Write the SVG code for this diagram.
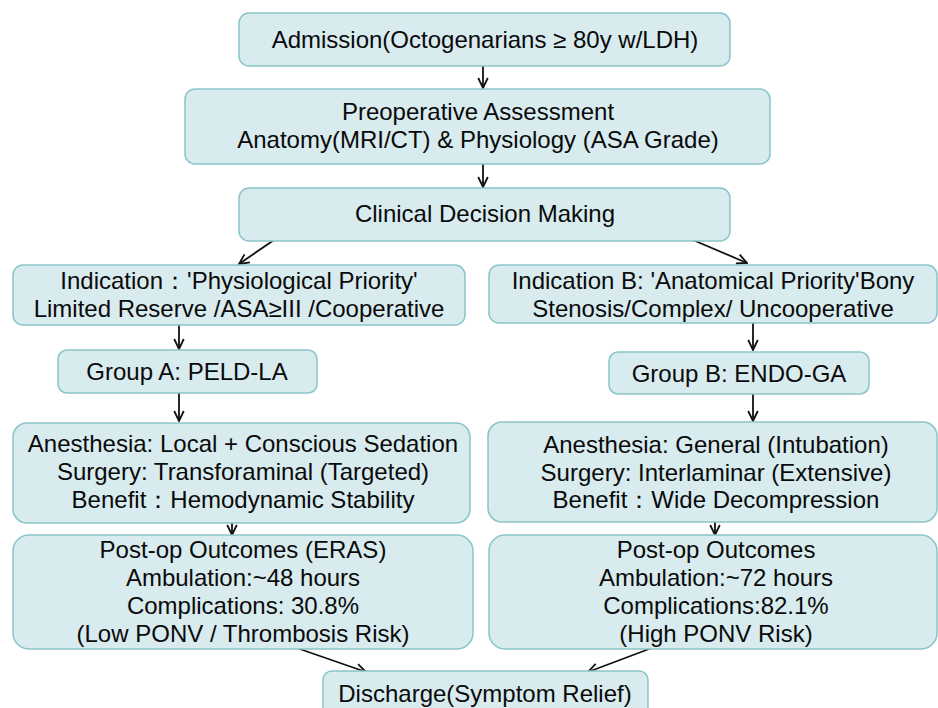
<svg xmlns="http://www.w3.org/2000/svg" width="938" height="708" viewBox="0 0 938 708">
<defs>
<style>
.box{fill:#d8ebee;stroke:#88c5c9;stroke-width:1.5}
text{font-family:"Liberation Sans",Arial,sans-serif;font-size:24px;fill:#0a0a0a;text-anchor:middle}
.c{stroke:#111;stroke-width:1.8;fill:none;marker-end:url(#ah)}
</style>
<marker id="ah" viewBox="0 0 12 12" refX="11" refY="6" markerWidth="12" markerHeight="12" markerUnits="userSpaceOnUse" orient="auto">
<path d="M1,1.2 L11,6 L1,10.8" fill="none" stroke="#111" stroke-width="1.8"/>
</marker>
</defs>
<rect width="938" height="708" fill="#ffffff"/>
<g id="connectors">
<line class="c" x1="483" y1="66" x2="483" y2="88"/>
<line class="c" x1="483" y1="164" x2="483" y2="187"/>
<line class="c" x1="274" y1="240" x2="239" y2="264"/>
<line class="c" x1="693" y1="240" x2="747" y2="263"/>
<line class="c" x1="179" y1="325" x2="179" y2="349"/>
<line class="c" x1="179" y1="393" x2="179" y2="421"/>
<line class="c" x1="232" y1="523" x2="232" y2="535"/>
<line class="c" x1="753" y1="323" x2="753" y2="350"/>
<line class="c" x1="753" y1="394" x2="753" y2="421"/>
<line class="c" x1="715" y1="522" x2="715" y2="535"/>
<line class="c" x1="294" y1="647" x2="366" y2="672"/>
<line class="c" x1="657" y1="646" x2="588" y2="672"/>
</g>
<g id="admission">
<rect class="box" x="239" y="13" width="491" height="53" rx="10"/>
<text x="485" y="48">Admission(Octogenarians ≥ 80y w/LDH)</text>
</g>
<g id="preop">
<rect class="box" x="185" y="89" width="585" height="75" rx="10"/>
<text x="478" y="120">Preoperative Assessment</text>
<text x="478" y="148">Anatomy(MRI/CT) &amp; Physiology (ASA Grade)</text>
</g>
<g id="decision">
<rect class="box" x="239" y="188" width="491" height="53" rx="10"/>
<text x="485" y="222">Clinical Decision Making</text>
</g>
<g id="indicationA">
<rect class="box" x="13" y="265" width="452" height="60" rx="10"/>
<text x="239" y="289">Indication：'Physiological Priority'</text>
<text x="239" y="317">Limited Reserve /ASA≥III /Cooperative</text>
</g>
<g id="indicationB">
<rect class="box" x="489" y="265" width="448" height="58" rx="10"/>
<text x="713" y="289">Indication B: 'Anatomical Priority'Bony</text>
<text x="713" y="317">Stenosis/Complex/ Uncooperative</text>
</g>
<g id="groupA">
<rect class="box" x="58" y="350" width="259" height="43" rx="9"/>
<text x="187" y="380">Group A: PELD-LA</text>
</g>
<g id="groupB">
<rect class="box" x="609" y="352" width="260" height="42" rx="9"/>
<text x="739" y="382">Group B: ENDO-GA</text>
</g>
<g id="anesthesiaA">
<rect class="box" x="13" y="423" width="457" height="100" rx="14"/>
<text x="243" y="452">Anesthesia: Local + Conscious Sedation</text>
<text x="243" y="480">Surgery: Transforaminal (Targeted)</text>
<text x="243" y="508">Benefit：Hemodynamic Stability</text>
</g>
<g id="anesthesiaB">
<rect class="box" x="488" y="422" width="449" height="100" rx="14"/>
<text x="716" y="453">Anesthesia: General (Intubation)</text>
<text x="716" y="481">Surgery: Interlaminar (Extensive)</text>
<text x="716" y="508">Benefit：Wide Decompression</text>
</g>
<g id="postopA">
<rect class="box" x="13" y="535" width="460" height="114" rx="16"/>
<text x="243" y="558">Post-op Outcomes (ERAS)</text>
<text x="243" y="586">Ambulation:~48 hours</text>
<text x="243" y="614">Complications: 30.8%</text>
<text x="243" y="642">(Low PONV / Thrombosis Risk)</text>
</g>
<g id="postopB">
<rect class="box" x="489" y="535" width="448" height="114" rx="16"/>
<text x="716" y="558">Post-op Outcomes</text>
<text x="716" y="586">Ambulation:~72 hours</text>
<text x="716" y="614">Complications:82.1%</text>
<text x="716" y="642">(High PONV Risk)</text>
</g>
<g id="discharge">
<rect class="box" x="323" y="671" width="325" height="50" rx="9"/>
<text x="485" y="702">Discharge(Symptom Relief)</text>
</g>
</svg>
